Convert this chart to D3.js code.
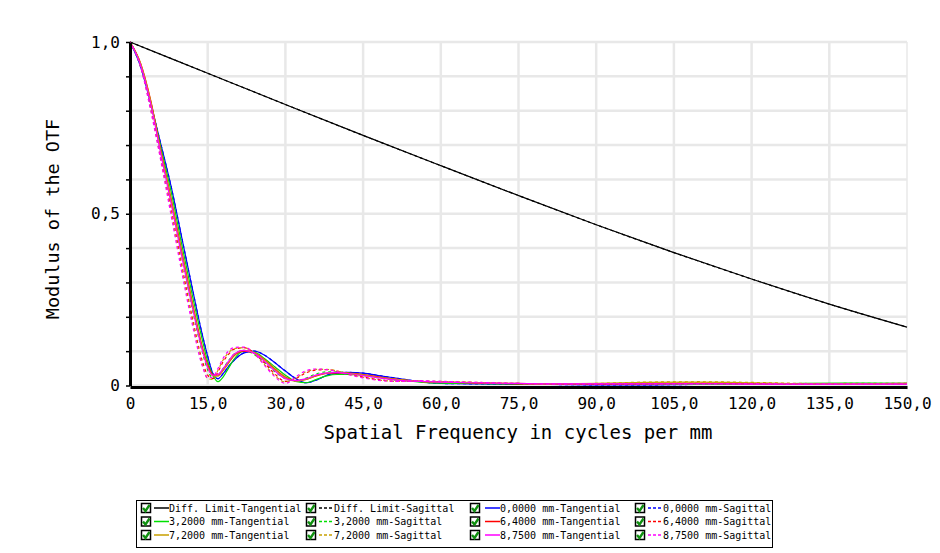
<!DOCTYPE html>
<html>
<head>
<meta charset="utf-8">
<script src="https://cdn.jsdelivr.net/npm/d3@7"></script>
<style>
  body { margin: 0; background: #fff; }
  text { font-family: "DejaVu Sans Mono", monospace; }
</style>
</head>
<body>
<svg id="canvas"></svg>
<script>
// spatial frequency samples (cycles per mm)
const freqs = [0, 2, 4, 6, 8, 10, 12, 14, 15, 16, 17, 18, 19, 20, 22, 24, 26, 28, 30, 32, 34, 36, 38, 40, 42, 45, 48, 52, 56, 60, 65, 70, 75, 80, 90, 100, 110, 120, 130, 140, 150]

const diffFreqs = [0, 15, 30, 45, 60, 75, 90, 105, 120, 135, 150]
const diffLimit = [1.0, 0.909, 0.818, 0.728, 0.640, 0.553, 0.468, 0.387, 0.310, 0.237, 0.170]

const field00T = [1.0, 0.93, 0.82, 0.70, 0.575, 0.43, 0.285, 0.145, 0.085, 0.035, 0.02, 0.035, 0.055, 0.072, 0.095, 0.10, 0.088, 0.066, 0.042, 0.02, 0.008, 0.016, 0.03, 0.036, 0.038, 0.036, 0.029, 0.02, 0.011, 0.006, 0.005, 0.004, 0.003, 0.003, 0.002, 0.002, 0.003, 0.003, 0.004, 0.005, 0.004]
const field00S = field00T
const field32T = [1.0, 0.935, 0.825, 0.69, 0.56, 0.41, 0.265, 0.13, 0.07, 0.03, 0.011, 0.025, 0.05, 0.075, 0.10, 0.097, 0.078, 0.054, 0.03, 0.012, 0.008, 0.018, 0.028, 0.032, 0.032, 0.03, 0.024, 0.016, 0.01, 0.007, 0.006, 0.005, 0.004, 0.003, 0.003, 0.003, 0.003, 0.004, 0.006, 0.007, 0.006]
const field32S = [1.0, 0.935, 0.815, 0.675, 0.53, 0.375, 0.225, 0.095, 0.045, 0.022, 0.03, 0.05, 0.072, 0.09, 0.102, 0.09, 0.067, 0.04, 0.02, 0.013, 0.022, 0.034, 0.04, 0.04, 0.037, 0.03, 0.022, 0.015, 0.012, 0.01, 0.008, 0.006, 0.005, 0.004, 0.004, 0.004, 0.004, 0.004, 0.005, 0.006, 0.006]
const field64T = [1.0, 0.94, 0.83, 0.68, 0.54, 0.39, 0.245, 0.11, 0.06, 0.032, 0.03, 0.045, 0.065, 0.085, 0.10, 0.095, 0.075, 0.048, 0.025, 0.014, 0.018, 0.028, 0.035, 0.037, 0.036, 0.032, 0.025, 0.017, 0.012, 0.01, 0.008, 0.006, 0.005, 0.004, 0.004, 0.005, 0.006, 0.005, 0.004, 0.005, 0.006]
const field64S = [1.0, 0.935, 0.81, 0.66, 0.51, 0.35, 0.20, 0.07, 0.03, 0.02, 0.04, 0.07, 0.09, 0.105, 0.11, 0.095, 0.065, 0.033, 0.012, 0.02, 0.037, 0.045, 0.046, 0.042, 0.035, 0.025, 0.017, 0.012, 0.012, 0.011, 0.009, 0.007, 0.006, 0.005, 0.005, 0.006, 0.007, 0.006, 0.005, 0.005, 0.005]
const field72T = [1.0, 0.94, 0.828, 0.678, 0.535, 0.385, 0.24, 0.105, 0.055, 0.028, 0.027, 0.045, 0.066, 0.087, 0.102, 0.096, 0.074, 0.046, 0.023, 0.013, 0.018, 0.029, 0.036, 0.038, 0.036, 0.031, 0.024, 0.017, 0.012, 0.01, 0.009, 0.007, 0.006, 0.005, 0.006, 0.009, 0.01, 0.008, 0.005, 0.005, 0.005]
const field72S = [1.0, 0.93, 0.805, 0.655, 0.50, 0.34, 0.19, 0.06, 0.02, 0.018, 0.045, 0.075, 0.095, 0.107, 0.11, 0.092, 0.06, 0.028, 0.01, 0.022, 0.04, 0.047, 0.047, 0.042, 0.034, 0.024, 0.016, 0.012, 0.013, 0.012, 0.01, 0.008, 0.006, 0.005, 0.006, 0.01, 0.011, 0.009, 0.006, 0.004, 0.004]
const field875T = [1.0, 0.935, 0.82, 0.67, 0.525, 0.375, 0.23, 0.10, 0.052, 0.03, 0.032, 0.05, 0.07, 0.09, 0.102, 0.094, 0.07, 0.042, 0.02, 0.014, 0.02, 0.031, 0.037, 0.038, 0.035, 0.029, 0.022, 0.015, 0.012, 0.01, 0.008, 0.007, 0.006, 0.005, 0.005, 0.005, 0.005, 0.004, 0.004, 0.004, 0.004]
const field875S = [1.0, 0.93, 0.80, 0.65, 0.49, 0.33, 0.18, 0.055, 0.022, 0.025, 0.05, 0.08, 0.10, 0.11, 0.112, 0.093, 0.058, 0.025, 0.006, 0.025, 0.043, 0.048, 0.046, 0.04, 0.032, 0.022, 0.015, 0.012, 0.014, 0.012, 0.01, 0.008, 0.006, 0.005, 0.005, 0.005, 0.005, 0.005, 0.004, 0.004, 0.004]

const xTicks = [0, 15, 30, 45, 60, 75, 90, 105, 120, 135, 150]
const yTicks = [0, 0.1, 0.2, 0.3, 0.4, 0.5, 0.6, 0.7, 0.8, 0.9, 1.0]
const yLabelled = [0, 0.5, 1.0]

const legendNames = [
    'Diff. Limit-Tangential', 'Diff. Limit-Sagittal', '0,0000 mm-Tangential', '0,0000 mm-Sagittal',
    '3,2000 mm-Tangential', '3,2000 mm-Sagittal', '6,4000 mm-Tangential', '6,4000 mm-Sagittal',
    '7,2000 mm-Tangential', '7,2000 mm-Sagittal', '8,7500 mm-Tangential', '8,7500 mm-Sagittal'
]

let width = 940,
height = 553

let canvas = d3.select('#canvas')
.attr('width', width)
.attr('height', height)

let x = d3.scaleLinear().domain([0, 150]).range([130, 907])
let y = d3.scaleLinear().domain([0, 1]).range([385.5, 42])

let fmt = d => d === 0 ? '0' : d.toFixed(1).replace('.', ',')

// grid
canvas.append('g').selectAll('line')
.data(yTicks)
.enter().append('line')
.attr('x1', x(0)).attr('x2', x(150))
.attr('y1', d => y(d)).attr('y2', d => y(d))
.attr('stroke', '#e8e8e8')
.attr('stroke-width', 2.5)

canvas.append('g').selectAll('line')
.data(xTicks.slice(1))
.enter().append('line')
.attr('x1', d => x(d)).attr('x2', d => x(d))
.attr('y1', y(1)).attr('y2', y(0) + 4)
.attr('stroke', '#e8e8e8')
.attr('stroke-width', d => d === 150 ? 1.5 : 2.5)

// series
let series = [
    {name: 'diffT', f: diffFreqs, v: diffLimit, color: '#000000', dash: null},
    {name: 'diffS', f: diffFreqs, v: diffLimit, color: '#000000', dash: '3,3'},
    {name: '0T', f: freqs, v: field00T, color: '#0000ff', dash: null},
    {name: '0S', f: freqs, v: field00S, color: '#0000ff', dash: '3,3'},
    {name: '32T', f: freqs, v: field32T, color: '#00e000', dash: null},
    {name: '32S', f: freqs, v: field32S, color: '#00e000', dash: '3,3'},
    {name: '64T', f: freqs, v: field64T, color: '#ff0000', dash: null},
    {name: '64S', f: freqs, v: field64S, color: '#ff0000', dash: '3,3'},
    {name: '72T', f: freqs, v: field72T, color: '#c8a000', dash: null},
    {name: '72S', f: freqs, v: field72S, color: '#c8a000', dash: '3,3'},
    {name: '875T', f: freqs, v: field875T, color: '#ff00ff', dash: null},
    {name: '875S', f: freqs, v: field875S, color: '#ff00ff', dash: '3,3'}
]

let line = d3.line()
.x(d => x(d[0]))
.y(d => y(d[1]))
.curve(d3.curveMonotoneX)

canvas.append('g').selectAll('path')
.data(series)
.enter().append('path')
.attr('d', s => line(s.f.map((f, i) => [f, s.v[i]])))
.attr('fill', 'none')
.attr('stroke', s => s.color)
.attr('stroke-width', 1.2)
.attr('stroke-dasharray', s => s.dash)

// axes
let xAxis = d3.axisBottom(x)
.tickValues(xTicks)
.tickFormat(fmt)
.tickSize(0)
.tickPadding(11)

let gx = canvas.append('g')
.attr('transform', `translate(0, ${y(0) + 1.5})`)
.call(xAxis)
gx.select('.domain').attr('stroke', '#000').attr('stroke-width', 3)
gx.selectAll('text').attr('font-size', 16).attr('fill', '#000')

let yAxis = d3.axisLeft(y)
.tickValues(yTicks)
.tickFormat(d => yLabelled.some(v => Math.abs(v - d) < 1e-6) ? fmt(d) : '')
.tickSizeInner(4)
.tickSizeOuter(0)
.tickPadding(6)

let gy = canvas.append('g')
.attr('transform', `translate(${x(0)}, 0)`)
.call(yAxis)
gy.select('.domain').attr('stroke', '#000').attr('stroke-width', 3)
gy.selectAll('.tick line').attr('stroke', '#000').attr('stroke-width', 1.5)
gy.selectAll('text').attr('font-size', 16).attr('fill', '#000')

// axis titles
canvas.append('text')
.attr('x', 518)
.attr('y', 439)
.attr('text-anchor', 'middle')
.attr('font-size', 19)
.text('Spatial Frequency in cycles per mm')

canvas.append('text')
.attr('transform', 'translate(59, 219) rotate(-90)')
.attr('text-anchor', 'middle')
.attr('font-size', 18.5)
.text('Modulus of the OTF')

// legend
let legend = canvas.append('g')

legend.append('rect')
.attr('x', 136.5).attr('y', 500.5)
.attr('width', 636).attr('height', 47)
.attr('fill', '#fff')
.attr('stroke', '#000')

let colX = [141, 306, 470, 635]
let rowY = [508, 521.5, 535]

let items = legend.selectAll('g.item')
.data(series)
.enter().append('g')
.attr('class', 'item')
.attr('transform', (s, i) => `translate(${colX[i % 4]}, ${rowY[Math.floor(i / 4)]})`)

items.append('rect')
.attr('x', 0.5).attr('y', -4.5)
.attr('width', 9).attr('height', 9)
.attr('fill', '#fff')
.attr('stroke', '#000')
.attr('stroke-width', 1.5)

items.append('path')
.attr('d', 'M2,0 L4.5,3 L8.5,-3')
.attr('fill', 'none')
.attr('stroke', '#109010')
.attr('stroke-width', 2.4)

items.append('rect')
.attr('x', (s, i) => i % 4 === 2 ? 15 : 13)
.attr('y', -0.75)
.attr('width', 15)
.attr('height', 1.5)
.attr('fill', s => s.dash ? 'none' : s.color)

// dashed legend keys drawn as short blocks
items.filter(s => s.dash).selectAll('rect.dash')
.data(s => d3.range(3).map(k => ({k: k, color: s.color})))
.enter().append('rect')
.attr('class', 'dash')
.attr('x', (d, k) => 13 + k * 5)
.attr('y', -0.75)
.attr('width', 3)
.attr('height', 1.5)
.attr('fill', d => d.color)

items.append('text')
.attr('x', (s, i) => i % 4 === 2 ? 30 : 28)
.attr('y', 3.5)
.attr('font-size', 10)
.attr('fill', '#000')
.text((s, i) => legendNames[i])
</script>
</body>
</html>
